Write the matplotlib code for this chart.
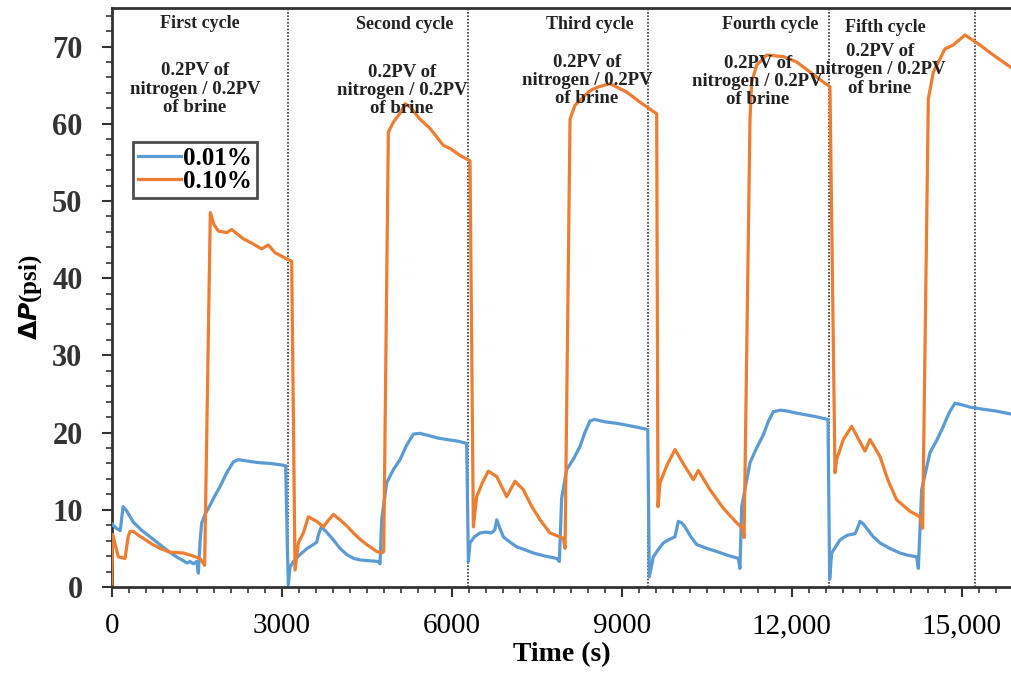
import matplotlib
matplotlib.use("Agg")
import matplotlib.pyplot as plt
from matplotlib.ticker import MultipleLocator, FuncFormatter

# 0.01% series (time in s, pressure drop in psi)
t_low = [0, 80, 150, 200, 260, 381, 520, 676, 830, 970, 1120, 1264, 1330, 1381, 1440, 1500,
         1529, 1560, 1588, 1660, 1735, 1820, 1911, 2030, 2146, 2234, 2400, 2600, 2800, 3000,
         3070, 3100, 3117, 3146, 3230, 3323, 3450, 3558, 3617, 3650, 3700, 3780, 3911, 4030,
         4147, 4270, 4382, 4550, 4705, 4735, 4764, 4853, 4970, 5088, 5200, 5323, 5440, 5600,
         5750, 5912, 6100, 6264, 6294, 6323, 6400, 6500, 6600, 6700, 6760, 6794, 6850, 6911,
         7030, 7147, 7300, 7440, 7650, 7852, 7900, 7940, 8029, 8150, 8264, 8350, 8440, 8520,
         8700, 8911, 9200, 9460, 9487, 9558, 9650, 9734, 9850, 9940, 9999, 10060, 10116, 10220,
         10323, 10500, 10676, 10870, 11058, 11087, 11117, 11264, 11380, 11499, 11590, 11675,
         11800, 11911, 12100, 12400, 12640, 12670, 12705, 12852, 12980, 13117, 13160, 13205,
         13260, 13323, 13440, 13558, 13730, 13911, 14060, 14205, 14235, 14293, 14440, 14560,
         14675, 14780, 14881, 15000, 15146, 15400, 15600, 15870]
p_low = [8.2, 7.6, 7.3, 10.4, 9.9, 8.4, 7.4, 6.5, 5.6, 4.8, 4.0, 3.4, 3.1, 3.3, 3.0, 3.3,
         1.8, 6.0, 8.3, 9.6, 10.6, 11.8, 13.0, 14.8, 16.2, 16.5, 16.3, 16.1, 16.0, 15.8,
         15.7, 5.0, 0.3, 2.6, 3.5, 4.2, 5.0, 5.5, 5.8, 6.8, 7.8, 7.2, 6.1, 5.0,
         4.2, 3.7, 3.5, 3.4, 3.3, 3.0, 8.7, 13.5, 15.2, 16.5, 18.3, 19.8, 19.9, 19.6,
         19.3, 19.1, 18.9, 18.6, 3.3, 5.7, 6.5, 7.0, 7.1, 7.0, 7.4, 8.7, 7.6, 6.5,
         5.8, 5.2, 4.8, 4.4, 4.0, 3.7, 3.3, 11.5, 15.2, 16.6, 18.2, 20.0, 21.5, 21.7,
         21.4, 21.2, 20.8, 20.4, 1.3, 3.9, 4.9, 5.7, 6.2, 6.5, 8.5, 8.3, 7.8, 6.5,
         5.5, 5.0, 4.6, 4.1, 3.7, 2.4, 10.4, 16.1, 18.0, 19.7, 21.5, 22.7,
         22.9, 22.8, 22.5, 22.1, 21.7, 1.0, 4.4, 6.1, 6.7, 6.9, 7.6, 8.5,
         8.2, 7.6, 6.5, 5.7, 5.0, 4.4, 4.1, 3.9, 2.4, 12.6, 17.4, 19.0,
         20.8, 22.6, 23.8, 23.6, 23.3, 23.0, 22.8, 22.4]

# 0.10% series
t_high = [0, 15, 60, 117, 235, 290, 323, 381, 470, 558, 700, 852, 1029, 1264, 1400, 1558,
          1640, 1740, 1800, 1882, 2029, 2117, 2323, 2480, 2647, 2764, 2882, 3088, 3176, 3235,
          3293, 3382, 3470, 3540, 3617, 3734, 3820, 3911, 4029, 4150, 4264, 4380, 4500, 4676,
          4764, 4800, 4882, 4970, 5100, 5176, 5264, 5440, 5617, 5852, 5970, 6146, 6323, 6382,
          6441, 6540, 6646, 6794, 6970, 7117, 7264, 7400, 7558, 7734, 7970, 8000, 8088, 8176,
          8411, 8470, 8600, 8793, 9088, 9323, 9499, 9617, 9640, 9676, 9800, 9940, 10100, 10264,
          10352, 10558, 10793, 11029, 11135, 11160, 11264, 11293, 11382, 11558, 11852, 12088,
          12323, 12558, 12675, 12764, 12793, 12911, 13058, 13293, 13382, 13558, 13700, 13852,
          14088, 14264, 14310, 14411, 14499, 14705, 14852, 15058, 15323, 15558, 15870]
p_high = [0.4, 6.8, 5.5, 3.9, 3.7, 6.5, 7.2, 7.2, 6.7, 6.3, 5.6, 5.0, 4.5, 4.4, 4.1, 3.7,
          2.8, 48.5, 47.0, 46.1, 45.9, 46.3, 45.1, 44.5, 43.8, 44.3, 43.3, 42.5, 42.2, 2.2,
          5.7, 7.0, 9.1, 8.8, 8.5, 7.8, 8.6, 9.4, 8.7, 7.9, 7.0, 6.2, 5.5, 4.6,
          4.4, 4.6, 58.9, 60.2, 61.5, 62.6, 62.2, 60.6, 59.4, 57.2, 56.8, 55.9, 55.2, 7.8,
          11.7, 13.5, 15.0, 14.3, 11.7, 13.7, 12.6, 10.6, 8.7, 7.0, 6.3, 5.0, 60.6, 62.4,
          64.1, 64.4, 64.8, 65.2, 64.1, 62.8, 61.9, 61.3, 10.4, 13.5, 15.8, 17.8, 15.8, 13.9,
          15.1, 12.6, 10.2, 8.3, 7.6, 6.4, 60.6, 65.4, 67.6, 68.9, 68.7, 68.0,
          66.7, 65.4, 64.8, 14.8, 16.5, 19.1, 20.8, 17.6, 19.1, 16.9, 13.8, 11.3,
          9.8, 9.1, 7.6, 63.2, 66.7, 69.7, 70.2, 71.5, 70.2, 68.9, 67.3]

cycle_bounds = [3110, 6290, 9460, 12650, 15230]
cycle_names = ["First cycle", "Second cycle", "Third cycle", "Fourth cycle", "Fifth cycle"]
name_x = [1558, 5176, 8442, 11617, 13647]
name_y = [73.0, 72.8, 72.9, 72.8, 72.5]
note_x = [1470, 5123, 8388, 11400, 13560]
note_y = [64.5, 64.3, 65.6, 65.5, 67.0]
note_text = "0.2PV of\nnitrogen / 0.2PV\nof brine"

plt.rcParams['font.family'] = ['Liberation Serif', 'DejaVu Serif']

fig = plt.figure(figsize=(10.11, 6.75), dpi=100)
ax = fig.add_axes([0.1105, 0.1304, 0.8895, 0.8578])

# dotted lines between cycles
for xb in cycle_bounds:
    ax.axvline(xb, color='#333333', linestyle=(0, (1, 1)), linewidth=1.2, zorder=1)

ax.plot(t_low, p_low, color='#5b9bd5', linewidth=2.3, label='0.01%', zorder=3)
ax.plot(t_high, p_high, color='#ed7d31', linewidth=2.3, label='0.10%', zorder=3)

for name, x, y in zip(cycle_names, name_x, name_y):
    ax.text(x, y, name, ha='center', va='center', fontsize=13, fontweight='bold', color='#222222')
for x, y in zip(note_x, note_y):
    ax.text(x, y, note_text, ha='center', va='center', fontsize=13.5, fontweight='bold',
            color='#222222', linespacing=1.1)

ax.set_xlim(0, 15870)
ax.set_ylim(0, 75)

ax.xaxis.set_major_locator(MultipleLocator(3000))
ax.xaxis.set_minor_locator(MultipleLocator(300))
ax.yaxis.set_major_locator(MultipleLocator(10))
ax.yaxis.set_minor_locator(MultipleLocator(2))

def xfmt(v, pos):
    v = int(round(v))
    return f"{v:,}" if v >= 10000 else str(v)
ax.xaxis.set_major_formatter(FuncFormatter(xfmt))

ax.tick_params(axis='both', which='major', direction='out', length=7, width=1.5, color='#333333')
ax.tick_params(axis='both', which='minor', direction='out', length=4, width=1.2, color='#333333')
ax.tick_params(axis='x', labelsize=21, pad=12)
ax.tick_params(axis='y', labelsize=22, pad=14)
for lbl in ax.get_yticklabels():
    lbl.set_fontweight('bold')
    lbl.set_color('#333333')

for side in ['left', 'bottom', 'top']:
    ax.spines[side].set_linewidth(2)
    ax.spines[side].set_color('#333333')
ax.spines['right'].set_visible(False)

ax.set_xlabel('Time (s)', fontsize=20, fontweight='bold', labelpad=2)
ax.set_ylabel(r'$\mathbf{\Delta}\boldsymbol{P}$(psi)', fontsize=18, fontweight='bold', labelpad=6)

leg = ax.legend(loc='upper left', bbox_to_anchor=(0.0237, 0.7686), borderaxespad=0,
                prop={'weight': 'bold', 'size': 18}, frameon=True, fancybox=False,
                handlelength=1.7, handletextpad=0.1, borderpad=0.2, labelspacing=0.0)
leg.get_frame().set_edgecolor('#222222')
leg.get_frame().set_linewidth(2)

fig.savefig('out.png', dpi=100)
plt.close(fig)
